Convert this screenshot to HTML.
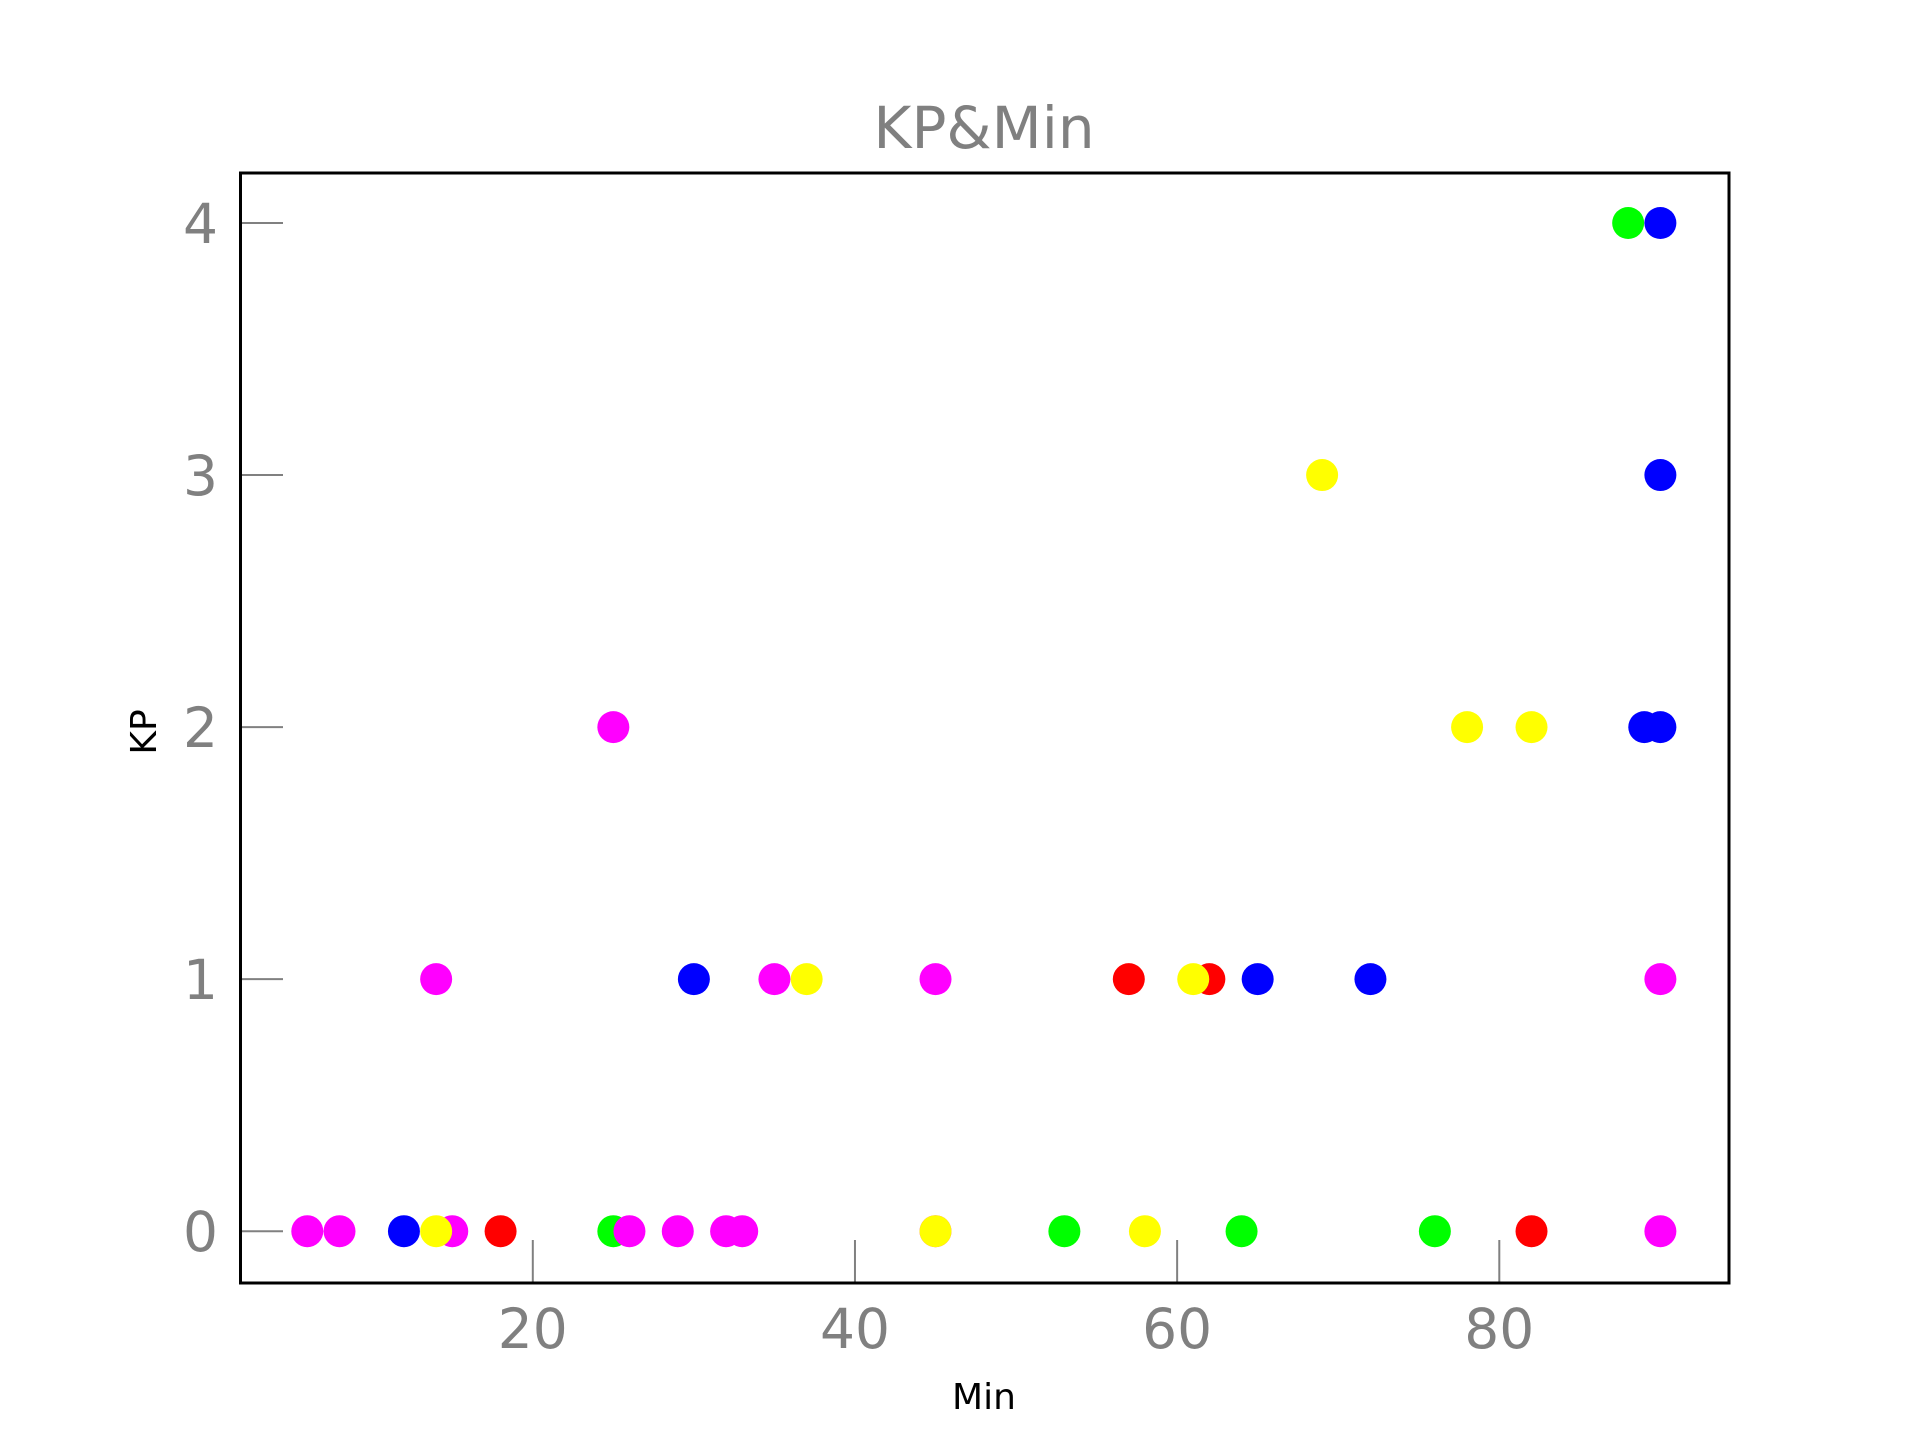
<!DOCTYPE html>
<html><head><meta charset="utf-8"><style>body{margin:0;background:#fff}svg{display:block}</style></head>
<body>
<svg id="chart" width="1920" height="1440" xmlns="http://www.w3.org/2000/svg" font-family="'DejaVu Sans','Liberation Sans',sans-serif">
<text x="984" y="148" font-size="58" fill="#808080" text-anchor="middle">KP&amp;Min</text>
<g id="ticks"></g>
<g id="marks"></g>
<rect x="240.5" y="173" width="1488.5" height="1110" fill="none" stroke="#000" stroke-width="3"/>
<text x="984" y="1409" font-size="36" fill="#000" text-anchor="middle">Min</text>
<text transform="translate(156,732) rotate(-90)" font-size="36" fill="#000" text-anchor="middle">KP</text>
</svg>
<script>
const xTicks = [20, 40, 60, 80];
const yTicks = [0, 1, 2, 3, 4];
const redMin = [18, 82, 57, 62];
const redKP = [0, 0, 1, 1];
const greenMin = [25, 53, 64, 76, 88];
const greenKP = [0, 0, 0, 0, 4];
const blueMin = [12, 30, 65, 72, 89, 90, 90, 90];
const blueKP = [0, 1, 1, 1, 2, 2, 3, 4];
const magentaMin = [6, 8, 15, 26, 29, 32, 33, 45, 90, 14, 35, 45, 90, 25];
const magentaKP = [0, 0, 0, 0, 0, 0, 0, 0, 0, 1, 1, 1, 1, 2];
const yellowMin = [14, 45, 58, 37, 61, 78, 82, 69];
const yellowKP = [0, 0, 0, 1, 1, 2, 2, 3];

const NS = 'http://www.w3.org/2000/svg';
function xs(v){ return 532.8 + (v - 20) * (1499.3 - 532.8) / 60; }
function ys(v){ return 1231.2 - v * (1231.2 - 223) / 4; }
const tg = document.getElementById('ticks');
xTicks.forEach(t => {
  const l = document.createElementNS(NS, 'line');
  
  
  l.setAttribute('x1', xs(t)); l.setAttribute('x2', xs(t));
  l.setAttribute('y1', 1283); l.setAttribute('y2', 1240);
  l.setAttribute('stroke', '#808080'); l.setAttribute('stroke-width', 2);
  tg.appendChild(l);
  const tx = document.createElementNS(NS, 'text');
  
  
  tx.setAttribute('x', xs(t)); tx.setAttribute('y', 1348);
  tx.setAttribute('font-size', 55); tx.setAttribute('fill', '#808080');
  tx.setAttribute('text-anchor', 'middle');
  tx.textContent = t;
  tg.appendChild(tx);
});
yTicks.forEach(t => {
  const l = document.createElementNS(NS, 'line');
  
  
  l.setAttribute('x1', 240); l.setAttribute('x2', 283);
  l.setAttribute('y1', ys(t)); l.setAttribute('y2', ys(t));
  l.setAttribute('stroke', '#808080'); l.setAttribute('stroke-width', 2);
  tg.appendChild(l);
  const tx = document.createElementNS(NS, 'text');
  
  
  tx.setAttribute('x', 218); tx.setAttribute('y', ys(t) + 20);
  tx.setAttribute('font-size', 55); tx.setAttribute('fill', '#808080');
  tx.setAttribute('text-anchor', 'end');
  tx.textContent = t;
  tg.appendChild(tx);
});
const mg = document.getElementById('marks');
const series = [
  ['red', redMin, redKP, '#ff0000'],
  ['green', greenMin, greenKP, '#00ff00'],
  ['blue', blueMin, blueKP, '#0000ff'],
  ['magenta', magentaMin, magentaKP, '#ff00ff'],
  ['yellow', yellowMin, yellowKP, '#ffff00']
];
series.forEach(s => {
  s[1].forEach((m, i) => {
    const c = document.createElementNS(NS, 'circle');
    
    
    c.setAttribute('cx', xs(m)); c.setAttribute('cy', ys(s[2][i]));
    c.setAttribute('r', 16); c.setAttribute('fill', s[3]);
    mg.appendChild(c);
  });
});
</script>
</body></html>
